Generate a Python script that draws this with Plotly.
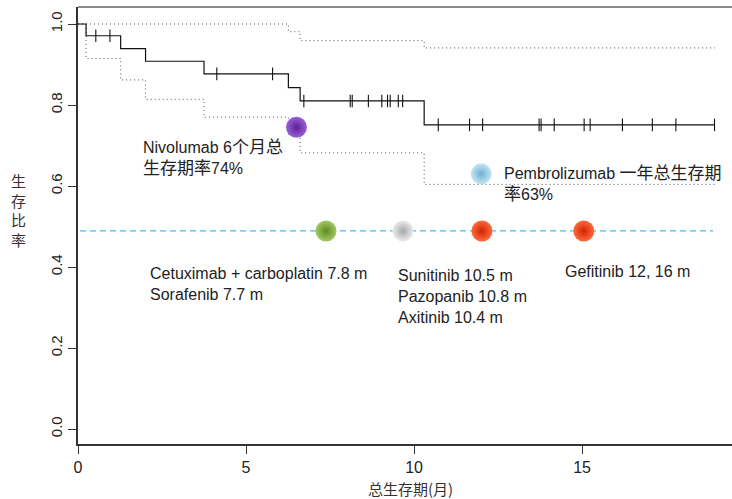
import re
import numpy as np
import plotly.graph_objects as go

# Kaplan-Meier estimate (months, survival proportion)
km_time = [0, 0.24, 1.27, 2.01, 3.75, 6.26, 6.61, 10.30, 18.95]
km_surv = [1.0, 0.971, 0.939, 0.908, 0.877, 0.843, 0.810, 0.751, 0.751]

# 95% confidence band
ci_up_time = [0, 6.26, 6.61, 10.30, 18.95]
ci_up = [1.0, 0.981, 0.959, 0.941, 0.941]
ci_lo_time = [0, 0.24, 1.27, 2.01, 3.75, 6.26, 6.61, 10.30, 18.95]
ci_lo = [1.0, 0.915, 0.862, 0.814, 0.770, 0.727, 0.682, 0.604, 0.604]

# censored observations
censor_time = [0.53, 0.95, 4.13, 5.79, 6.72, 8.10, 8.16, 8.64, 9.04, 9.21, 9.29,
               9.53, 9.66, 10.72, 11.65, 12.04, 13.72, 13.78, 14.17, 15.06, 15.24,
               16.20, 17.09, 17.79, 18.94]

# median survival reference line
median_level = 0.489
median_span = [0.06, 18.9]

# comparison drugs
drug_x = [6.5, 12.0, 7.38, 9.67, 12.02, 15.05]
drug_y = [0.745, 0.63, 0.489, 0.489, 0.489, 0.489]
drug_base = ["#5e1f99", "#6fb0cf", "#5f8a22", "#a8a8a8", "#d02404", "#d02404"]
drug_light = ["#9a60d6", "#c4e6f5", "#a3c964", "#ececec", "#ff6a3a", "#ff6a3a"]

# text labels: x (left edge), y (centre), text
label_x = [1.88, 12.62, 2.08, 9.46, 14.43]
label_y = [0.670, 0.605, 0.358, 0.328, 0.390]
label_text = [
    "Nivolumab 6个月总<br>生存期率74%",
    "Pembrolizumab 一年总生存期<br>率63%",
    "Cetuximab + carboplatin 7.8 m<br>Sorafenib 7.7 m",
    "Sunitinib 10.5 m<br>Pazopanib 10.8 m<br>Axitinib 10.4 m",
    "Gefitinib 12, 16 m",
]

x_ticks = [0, 5, 10, 15]
y_ticks = [0.0, 0.2, 0.4, 0.6, 0.8, 1.0]
y_tick_text = ["0.0", "0.2", "0.4", "0.6", "0.8", "1.0"]

FONT = "Liberation Sans, Arial, Noto Sans CJK SC"
CJK_FONT = "Noto Sans CJK SC"


def cjk_span(text, size=17):
    """Render runs of CJK characters slightly larger than the Latin text."""
    return re.sub(r"([\u4e00-\u9fff]+)",
                  lambda m: f'<span style="font-size:{size}px">{m.group(1)}</span>',
                  text)


fig = go.Figure()

# confidence band (dotted)
for t, v in ((ci_up_time, ci_up), (ci_lo_time, ci_lo)):
    fig.add_trace(go.Scatter(x=t, y=v, mode="lines", line_shape="hv",
                             line=dict(color="#555555", width=1, dash="1px,3px"),
                             hoverinfo="skip", showlegend=False))

# survival curve
fig.add_trace(go.Scatter(x=km_time, y=km_surv, mode="lines", line_shape="hv",
                         line=dict(color="#111111", width=1.2),
                         hoverinfo="skip", showlegend=False))

# censor marks sit on the step curve
idx = np.searchsorted(np.array(km_time), np.array(censor_time), side="right") - 1
censor_surv = [km_surv[i] for i in idx]
fig.add_trace(go.Scatter(x=censor_time, y=censor_surv, mode="markers",
                         marker=dict(symbol="line-ns-open", size=9, color="#111111",
                                     line=dict(color="#111111", width=1.1)),
                         hoverinfo="skip", showlegend=False))

# median reference line
fig.add_trace(go.Scatter(x=median_span, y=[median_level, median_level], mode="lines",
                         line=dict(color="#3cc0f0", width=1.3, dash="6px,4px"),
                         hoverinfo="skip", showlegend=False))

# glossy drug markers
fig.add_trace(go.Scatter(x=drug_x, y=drug_y, mode="markers",
                         marker=dict(size=21, color=drug_light,
                                     gradient=dict(type="radial", color=drug_base),
                                     line=dict(width=0)),
                         hoverinfo="skip", showlegend=False))

for lx, ly, lt in zip(label_x, label_y, label_text):
    fig.add_annotation(x=lx, y=ly, xref="x", yref="y", text=cjk_span(lt),
                       showarrow=False, xanchor="left", yanchor="middle",
                       align="left",
                       font=dict(family=FONT, size=16, color="#222222"))

# axis titles
fig.add_annotation(x=-0.0917, y=0.535, xref="paper", yref="paper",
                   text="生<br>存<br>比<br>率", showarrow=False,
                   xanchor="center", yanchor="middle",
                   font=dict(family=CJK_FONT, size=15, color="#3a3030"))
fig.add_annotation(x=0.508, y=-0.101, xref="paper", yref="paper",
                   text="总生存期(月)", showarrow=False,
                   xanchor="center", yanchor="middle",
                   font=dict(family=CJK_FONT, size=15, color="#3a3030"))

# top frame line
fig.add_shape(type="line", xref="paper", yref="paper", x0=0, x1=1, y0=1, y1=1,
              line=dict(color="#8a8a8a", width=2))

fig.update_layout(
    width=732, height=499,
    margin=dict(l=78, r=0, t=7, b=55),
    paper_bgcolor="white", plot_bgcolor="white",
    showlegend=False,
    xaxis=dict(range=[0, 19.46], tickvals=x_ticks, ticks="outside", ticklen=8,
               tickcolor="#333333", showline=True, linecolor="#333333", linewidth=1.5,
               showgrid=False, zeroline=False,
               tickfont=dict(family=FONT, size=16, color="#222222")),
    yaxis=dict(range=[-0.037, 1.042], tickvals=y_ticks, ticktext=y_tick_text,
               ticks="outside", ticklen=8, tickcolor="#333333", tickangle=-90,
               showline=True, linecolor="#333333", linewidth=1.5,
               showgrid=False, zeroline=False,
               tickfont=dict(family=FONT, size=15, color="#222222")),
)

fig.write_html("out.html")
